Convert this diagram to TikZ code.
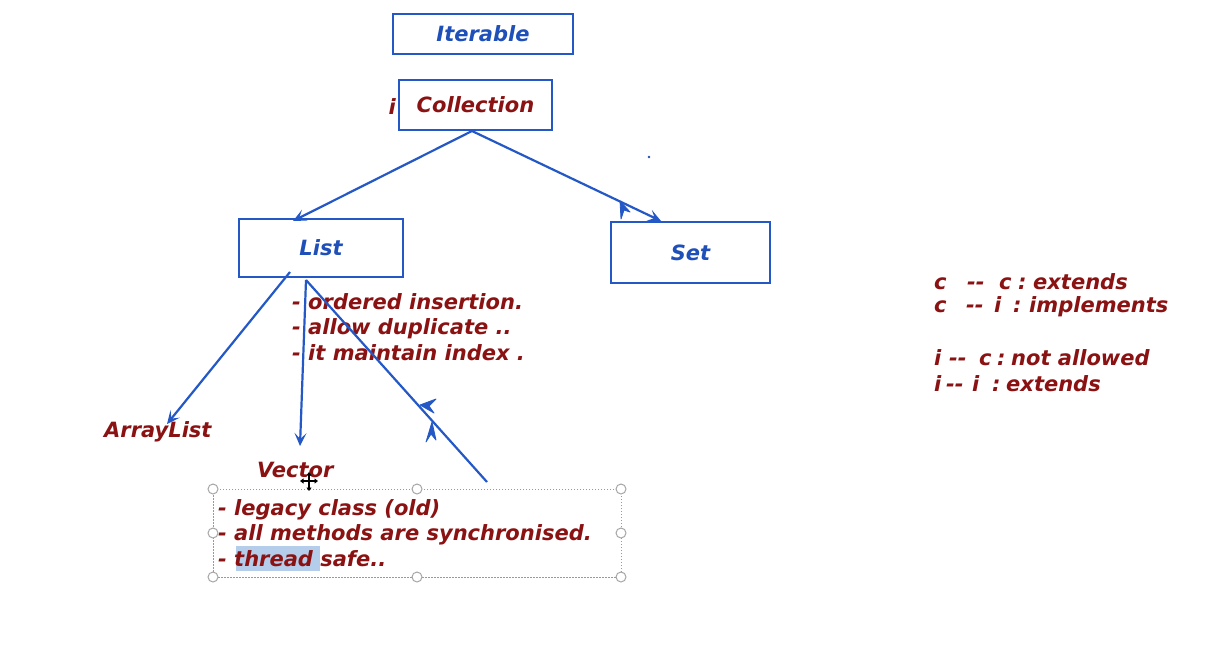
\documentclass[tikz,border=0pt]{standalone}
\usepackage{fontspec}
\setmainfont{DejaVu Sans}
\usetikzlibrary{arrows.meta}
\definecolor{lineblue}{HTML}{2458C6}
\definecolor{txtblue}{HTML}{1F4FB8}
\definecolor{txtred}{HTML}{8A1212}
\definecolor{hl}{HTML}{B3CDEA}
\newcommand{\lgpart}[2]{\makebox[#1pt][l]{#2}}
\begin{document}
\begin{tikzpicture}[x=1pt,y=-1pt,
  font=\fontsize{21}{25}\selectfont\bfseries\itshape,
  box/.style={draw=lineblue,line width=2.3pt,inner sep=0pt,text=txtblue},
  red/.style={text=txtred,inner sep=0pt},
  conn/.style={draw=lineblue,line width=2.2pt,-{Stealth[length=13pt,width=12pt,inset=6pt]}},
  plain/.style={draw=lineblue,line width=2.2pt},
  head/.style={fill=lineblue,draw=lineblue,line width=0.8pt,line join=round},
  handle/.style={circle,draw=gray!70,fill=white,line width=1pt,minimum size=10pt,inner sep=0pt},
  para/.style={red,anchor=north west,align=left,font=\fontsize{21}{25.8}\selectfont\bfseries\itshape}]
\useasboundingbox (0,0) rectangle (1230,650);
\fill[white] (0,0) rectangle (1230,650);
% boxes
\node[box,minimum width=180pt,minimum height=40pt] (iter) at (483,34) {Iterable};
\node[box,minimum width=153pt,minimum height=50pt,text=txtred] (coll) at (475.5,105) {Collection};
\node[red,anchor=east] (ilab) at (396,107) {i};
\node[box,minimum width=164pt,minimum height=58pt] (list) at (321,248) {List};
\node[box,minimum width=159pt,minimum height=61pt] (set) at (690.5,252.5) {Set};
\fill[txtblue] (649,157) circle (1.3pt);
% other labels
\node[red,anchor=west] (alist) at (104,432) {ArrayList};
\node[red,anchor=west] (vec) at (257,470) {Vector};
\node[para] (ltxt) at (292,293) {- ordered insertion.\\- allow duplicate ..\\- it maintain index .};
% connectors
\coordinate (cb) at (472,131);
\draw[conn] (cb) -- (293,221);
\draw[conn] (cb) -- (661,221);
\filldraw[head] (620,201) -- (630,212) -- (624,210) -- (621,219) -- cycle;
\coordinate (l1) at (290,272);
\coordinate (l2) at (306,280);
\draw[conn] (l1) -- (167,424);
\draw[conn] (l2) -- (300,446);
\coordinate (lend) at (487,482);
\draw[plain] (l2) -- (lend);
\filldraw[head] (420,405) -- (436,399) -- (429,406) -- (434,413) -- cycle;
\filldraw[head] (432,422) -- (436,440) -- (431,434) -- (426,442) -- cycle;
% selection box with text
\fill[hl] (236,546) rectangle (320,571);
\draw[gray!80,dash pattern=on 1.5pt off 1.5pt,line width=1pt] (213,489) rectangle (621,577);
\node[para] (vtxt) at (218,499) {- legacy class (old)\\- all methods are synchronised.\\- thread safe..};
\foreach \p in {(213,489),(417,489),(621,489),(213,533),(621,533),(213,577),(417,577),(621,577)}
  \node[handle] at \p {};
% move cursor
\draw[black,line width=1.2pt,{Triangle[length=3.5pt,width=5pt]}-{Triangle[length=3.5pt,width=5pt]}] (300,481) -- (318,481);
\draw[black,line width=1.2pt,{Triangle[length=3.5pt,width=5pt]}-{Triangle[length=3.5pt,width=5pt]}] (309,472) -- (309,491);
% legend
\node[red,anchor=west] (lg1) at (934,282) {\lgpart{33}{c}\lgpart{32}{-{}-}\lgpart{19}{c}\lgpart{15}{:}extends};
\node[red,anchor=west] (lg2) at (934,307) {\lgpart{32}{c}\lgpart{28}{-{}-}\lgpart{19}{i}\lgpart{16}{:}implements};
\node[red,anchor=west] (lg3) at (934,358) {\lgpart{15}{i}\lgpart{30}{-{}-}\lgpart{18}{c}\lgpart{14}{:}not allowed};
\node[red,anchor=west] (lg4) at (934,384) {\lgpart{12}{i}\lgpart{26}{-{}-}\lgpart{20}{i}\lgpart{14}{:}extends};
\end{tikzpicture}
\end{document}
